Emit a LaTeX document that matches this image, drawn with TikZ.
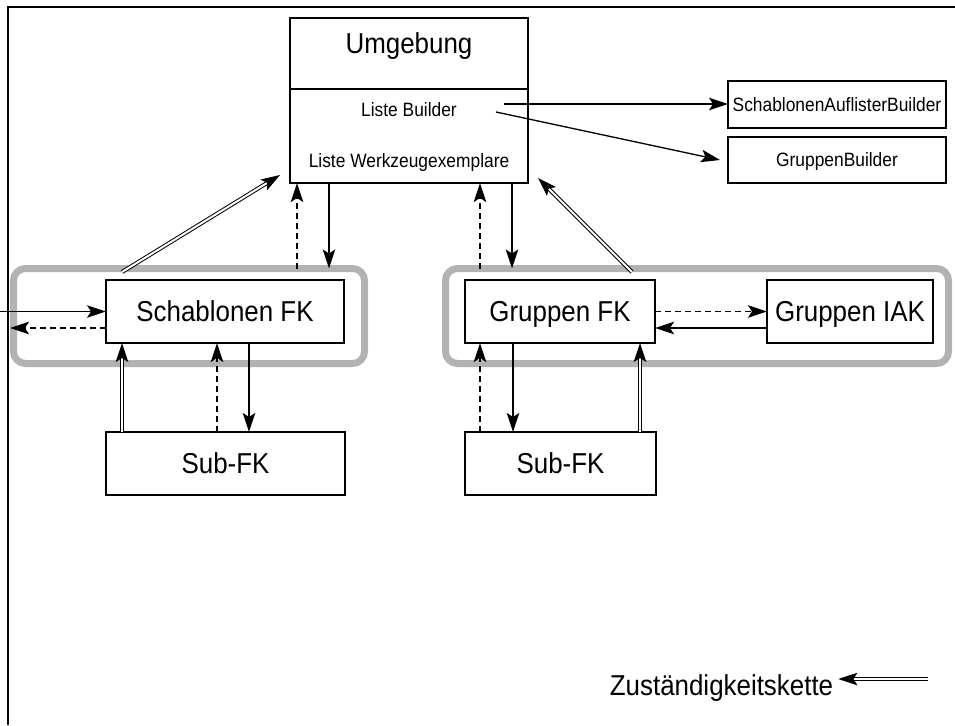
\documentclass[tikz,border=0pt]{standalone}
\usepackage{fontspec}
\setmainfont{Liberation Sans}[FakeStretch=0.9]
\usetikzlibrary{arrows.meta}
\newcommand\bigtxt{\fontsize{28.8pt}{32pt}\selectfont}
\newcommand\smalltxt{\fontsize{19.3pt}{22pt}\selectfont}

\begin{document}
\begin{tikzpicture}[x=1pt,y=-1pt,
  box/.style={draw, line width=1.2pt, inner sep=0pt, outer sep=0pt},
  bigbox/.style={box, font=\bigtxt, text height=20.6pt, text depth=0pt, minimum height=63pt},
  smallbox/.style={box, font=\smalltxt, text height=13.8pt, text depth=0pt},
  lbl/.style={inner sep=0pt, text depth=0pt},
  biglbl/.style={lbl, font=\bigtxt, text height=20.6pt},
  smalllbl/.style={lbl, font=\smalltxt, text height=13.8pt},
  group/.style={draw=black!30, line width=7pt, rounded corners=12pt, inner sep=0pt, outer sep=0pt},
  tip/.style={-{Stealth[length=19pt,width=12.5pt,inset=4pt]}},
  flow/.style={tip, line width=1.3pt},
  dflow/.style={tip, line width=1.8pt, dash pattern=on 6pt off 4pt},
  chain/.style={tip, double, double distance=2pt, line width=1pt}
]
\useasboundingbox (0,0) rectangle (955,725);

% outer frame (top and left edges only)
\coordinate (frBL) at (8,725);
\coordinate (frTL) at (8,7);
\coordinate (frTR) at (955,7);
\draw[line width=1.5pt] (frBL) -- (frTL) -- (frTR);

% environment box with its two compartments
\node[box, minimum width=238pt, minimum height=165pt] (umg) at (409,100.5) {};
\draw[line width=1.2pt] ([yshift=-71pt]umg.north west) -- ([yshift=-71pt]umg.north east);
\node[biglbl] (umgT) at (409,42.7) {Umgebung};
\node[smalllbl] (listB) at (409,110) {Liste Builder};
\node[smalllbl] (listW) at (409,161) {Liste Werkzeugexemplare};

% builders
\node[smallbox, minimum width=218pt, minimum height=47pt] (sab) at (837,104.5) {SchablonenAuflisterBuilder};
\node[smallbox, minimum width=218pt, minimum height=46pt] (gb) at (837,160) {GruppenBuilder};

% grey groupings
\node[group, minimum width=351pt, minimum height=95pt] (grpL) at (189,316) {};
\node[group, minimum width=503pt, minimum height=95pt] (grpR) at (697,316) {};

% components
\node[bigbox, minimum width=238pt] (sfk) at (225,311.5) {Schablonen FK};
\node[bigbox, minimum width=190pt] (gfk) at (560,311.5) {Gruppen FK};
\node[bigbox, minimum width=166pt] (iak) at (850,311.5) {Gruppen IAK};
\node[bigbox, minimum width=239pt] (subL) at (225.5,463.5) {Sub-FK};
\node[bigbox, minimum width=191pt] (subR) at (560.5,463.5) {Sub-FK};

% builder list arrows
\coordinate (bA) at (504,104);
\coordinate (bB) at (496,112);
\draw[flow] (bA) -- (bA -| sab.west);
\draw[flow] (bB) -- ([xshift=-8pt]gb.west);

% left group <-> environment
\draw[chain] ([xshift=108.5pt,yshift=-3.5pt]grpL.north west) -- ([xshift=-10pt,yshift=8pt]umg.south west);
\draw[dflow] ([xshift=283.5pt]grpL.north west) -- ([xshift=7pt]umg.south west);
\draw[flow] ([xshift=39pt]umg.south west) -- ([xshift=315.5pt]grpL.north west);

% left outside connections
\coordinate (inL) at (0,311.5);
\coordinate (outL) at (10,328);
\draw[flow] (inL) -- (sfk.west);
\draw[dflow] ([yshift=-16.5pt]sfk.west) -- (outL);

% Schablonen FK <-> Sub-FK
\draw[chain] ([xshift=16pt]subL.north west) -- ([xshift=16pt]sfk.south west);
\draw[dflow] ([xshift=111pt]subL.north west) -- ([xshift=111pt]sfk.south west);
\draw[flow] ([xshift=143pt]sfk.south west) -- ([xshift=143pt]subL.north west);

% right group <-> environment
\draw[dflow] ([xshift=34.5pt]grpR.north west) -- ([xshift=-48pt]umg.south east);
\draw[flow] ([xshift=-16pt]umg.south east) -- ([xshift=66.5pt]grpR.north west);
\draw[chain] ([xshift=186.5pt,yshift=-3.5pt]grpR.north west) -- ([xshift=10pt,yshift=5pt]umg.south east);

% Gruppen FK <-> Gruppen IAK
\draw[dflow] (gfk.east) -- (iak.west);
\draw[flow] ([yshift=-16.5pt]iak.west) -- ([yshift=-16.5pt]gfk.east);

% Gruppen FK <-> Sub-FK
\draw[dflow] ([xshift=15pt]subR.north west) -- ([xshift=15pt]gfk.south west);
\draw[flow] ([xshift=48pt]gfk.south west) -- ([xshift=48pt]subR.north west);
\draw[chain] ([xshift=175pt]subR.north west) -- ([xshift=175pt]gfk.south west);

% legend
\node[biglbl] (leg) at (721.5,684.7) {Zuständigkeitskette};
\coordinate (legA) at (928,679);
\draw[chain, shorten >=5pt] (legA) -- (legA -| leg.east);
\end{tikzpicture}
\end{document}
